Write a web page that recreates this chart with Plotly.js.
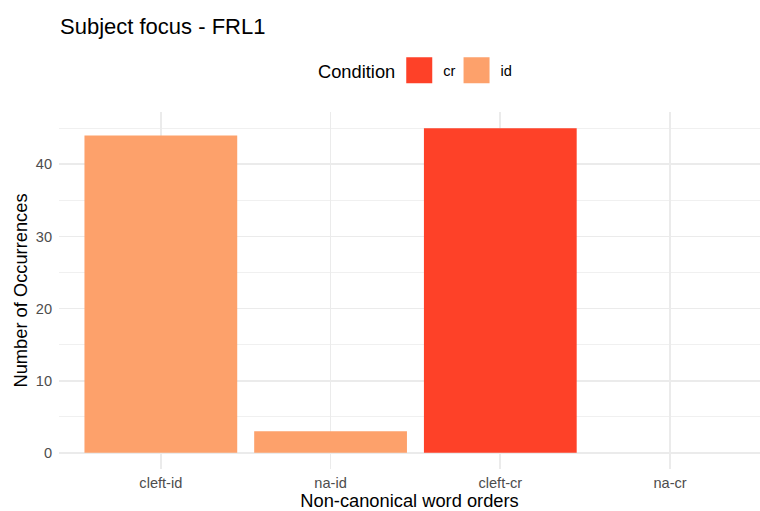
<!DOCTYPE html>
<html>
<head>
<meta charset="utf-8">
<script src="https://cdn.plot.ly/plotly-3.0.1.min.js"></script>
<style>
html,body{margin:0;padding:0;background:#fff;}
#chart{width:760px;height:511px;}
</style>
</head>
<body>
<div id="chart"></div>
<script>
const categories = ['cleft-id', 'na-id', 'cleft-cr', 'na-cr'];
const conditions = ['id', 'id', 'cr', 'cr'];
const counts = [44, 3, 45, 0];
const legendOrder = ['cr', 'id'];
const conditionColors = {cr: '#FE4128', id: '#FDA16B'};
const yTicks = [0, 10, 20, 30, 40];

const FONT = 'Liberation Sans, Arial, Helvetica, sans-serif';

const traces = legendOrder.map(function (cond) {
  const xs = [], ys = [];
  categories.forEach(function (c, i) {
    if (conditions[i] === cond) { xs.push(c); ys.push(counts[i]); }
  });
  return {
    type: 'bar',
    name: cond,
    x: xs,
    y: ys,
    width: 0.9,
    marker: {color: conditionColors[cond], line: {width: 0}},
    hoverinfo: 'x+y'
  };
});

const layout = {
  width: 760,
  height: 511,
  margin: {l: 59, r: 0, t: 112, b: 42, pad: 0},
  paper_bgcolor: '#ffffff',
  plot_bgcolor: '#ffffff',
  barmode: 'overlay',
  font: {family: FONT, color: '#000000'},
  title: {
    text: 'Subject focus - FRL1',
    x: 60 / 760, xref: 'container', xanchor: 'left',
    y: 1 - 26 / 511, yref: 'container', yanchor: 'middle',
    font: {family: FONT, size: 22, color: '#000000'}
  },
  showlegend: true,
  legend: {
    orientation: 'h',
    x: (316 - 59) / 701, xanchor: 'left',
    y: 1.114, yanchor: 'middle',
    title: {text: 'Condition', side: 'left', font: {family: FONT, size: 18.3, color: '#000000'}},
    font: {family: FONT, size: 14.6, color: '#000000'},
    traceorder: 'normal',
    itemwidth: 30,
    bgcolor: 'rgba(0,0,0,0)'
  },
  xaxis: {
    type: 'category',
    categoryorder: 'array',
    categoryarray: categories,
    range: [-0.6, 3.53],
    showgrid: true,
    gridcolor: '#EBEBEB',
    gridwidth: 1.8,
    zeroline: false,
    showline: false,
    ticks: '',
    tickfont: {family: FONT, size: 14.6, color: '#4D4D4D'},
    ticklabelstandoff: 3,
    title: {text: 'Non-canonical word orders', font: {family: FONT, size: 18.3, color: '#000000'}, standoff: 3}
  },
  yaxis: {
    range: [-2.25, 47.25],
    tickvals: yTicks,
    showgrid: true,
    gridcolor: '#EBEBEB',
    gridwidth: 1.8,
    minor: {dtick: 5, tick0: 0, showgrid: true, gridcolor: '#F0F0F0', gridwidth: 1.1, ticks: ''},
    zeroline: false,
    showline: false,
    ticks: '',
    tickfont: {family: FONT, size: 14.6, color: '#4D4D4D'},
    ticklabelstandoff: 6,
    title: {text: 'Number of Occurrences', font: {family: FONT, size: 18.3, color: '#000000'}, standoff: 3}
  }
};

Plotly.newPlot('chart', traces, layout, {displayModeBar: false, staticPlot: true}).then(function (gd) {
  // enlarge legend keys to ggplot-like squares
  gd.querySelectorAll('.legend .legendpoints path').forEach(function (p) {
    p.setAttribute('d', 'M-17,-13H9V13H-17Z');
    p.style.strokeWidth = '0px';
  });
});
</script>
</body>
</html>
